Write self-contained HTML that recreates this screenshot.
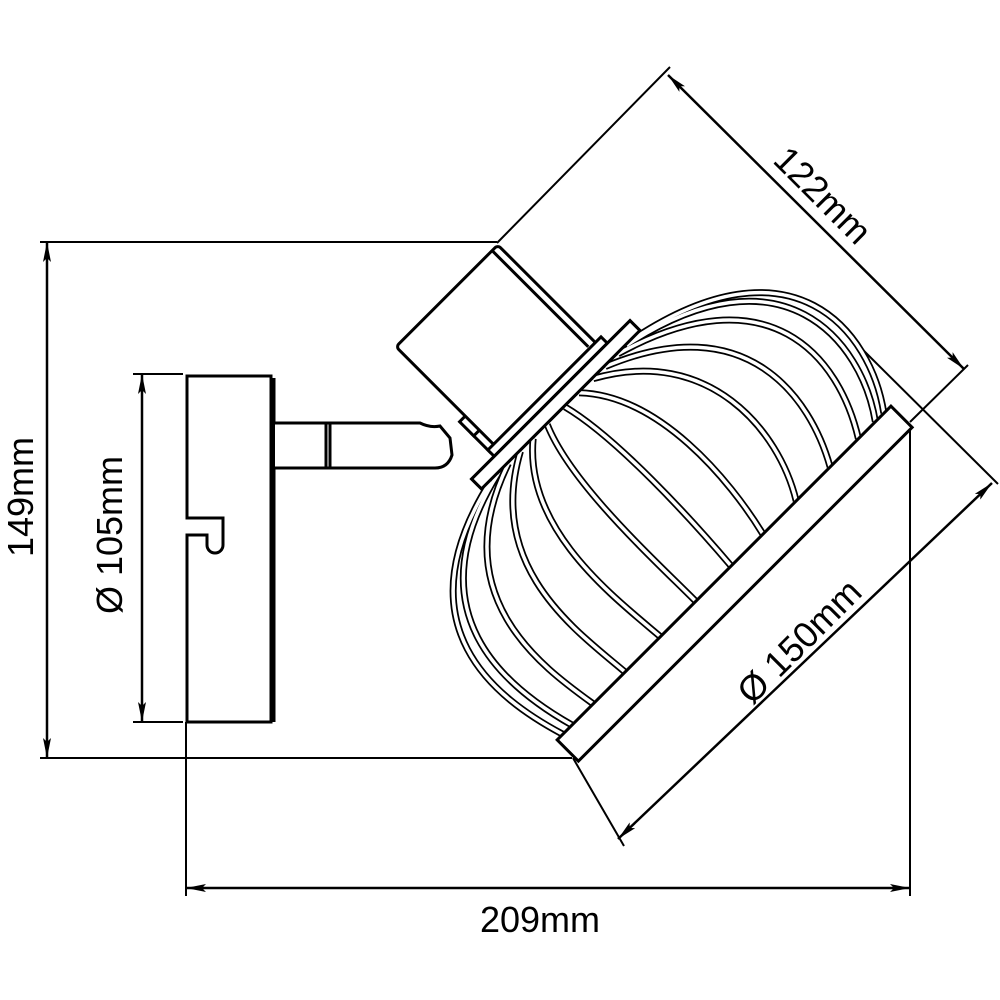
<!DOCTYPE html>
<html><head><meta charset="utf-8"><style>
html,body{margin:0;padding:0;background:#fff}
svg{display:block}
text{font-family:"Liberation Sans",Arial,sans-serif;fill:#000}
</style></head><body>
<svg width="1000" height="1000" viewBox="0 0 1000 1000" xmlns="http://www.w3.org/2000/svg">
<defs>
<marker id="ar" viewBox="0 0 20 8" refX="20" refY="4" markerWidth="20" markerHeight="8" markerUnits="userSpaceOnUse" orient="auto-start-reverse">
<path d="M0,0 L20,4 L0,8 L4,4 Z" fill="#000"/>
</marker>
</defs>
<g fill="none" stroke="#000" stroke-width="2">
<line x1="40" y1="242" x2="497" y2="242"/>
<line x1="40" y1="758" x2="572" y2="758"/>
<line x1="47" y1="242" x2="47" y2="758" marker-start="url(#ar)" marker-end="url(#ar)" stroke-width="2.5"/>
<line x1="133" y1="374" x2="183" y2="374"/>
<line x1="133" y1="722" x2="183" y2="722"/>
<line x1="142" y1="374" x2="142" y2="722" marker-start="url(#ar)" marker-end="url(#ar)" stroke-width="2.5"/>
<line x1="186" y1="722" x2="186" y2="896"/>
<line x1="910" y1="428" x2="910" y2="896"/>
<line x1="186" y1="888" x2="910" y2="888" marker-start="url(#ar)" marker-end="url(#ar)" stroke-width="2.5"/>
<line x1="497" y1="243" x2="670" y2="67"/>
<line x1="910" y1="422" x2="968" y2="365"/>
<line x1="668" y1="75" x2="964" y2="369" marker-start="url(#ar)" marker-end="url(#ar)" stroke-width="2.5"/>
<line x1="850" y1="337" x2="998" y2="484"/>
<line x1="573" y1="758" x2="624" y2="846"/>
<line x1="992" y1="483" x2="618" y2="839" marker-start="url(#ar)" marker-end="url(#ar)" stroke-width="2.5"/>

<g stroke-width="3">
<path d="M187,376 L271,376 L271,722 L187,722 L187,535 L207,535 L207,545 A8,8 0 0 0 223,545 L223,518 L187,518 Z" fill="#fff"/>
<line x1="274" y1="378" x2="274" y2="722"/>
<path d="M275,423 L420,423 Q430,428 440,426 L450,438 L452,455 Q448,468 435,468 L275,468" fill="#fff"/>
<line x1="326" y1="423" x2="326" y2="468"/>
<line x1="330" y1="423" x2="330" y2="468"/>
</g>

<g transform="translate(560,409) rotate(45)" stroke-width="3">
<rect x="-45" y="62" width="26" height="18" fill="#fff"/>
<rect x="-62" y="70" width="20" height="10" fill="#fff"/>
<rect x="-160" y="-72" width="140" height="144" rx="4" fill="#fff"/>
<line x1="-160" y1="-64" x2="-24" y2="-64"/>
<rect x="-22" y="-80" width="9" height="160" fill="#fff"/>
<rect x="-13" y="-112" width="14" height="224" fill="#fff"/>
<g stroke-linecap="butt">
<g stroke="#000" stroke-width="7">
<path d="M2,-100 C40,-290 165,-275 232,-226"/>
<path d="M2,-92 C40,-275 165,-262 232,-214"/>
<path d="M2,-80 C50,-245 160,-235 232,-190"/>
<path d="M2,-62 C60,-205 170,-185 232,-150"/>
<path d="M2,-45 C60,-150 170,-140 232,-102"/>
<path d="M2,-25 C60,-80 170,-70 232,-55"/>
<path d="M2,-5 C60,-20 170,-15 232,-10"/>
<path d="M2,20 C60,45 170,40 232,40"/>
<path d="M2,40 C60,110 170,95 232,90"/>
<path d="M2,58 C60,165 170,145 232,140"/>
<path d="M2,75 C50,215 170,195 232,185"/>
<path d="M2,90 C40,250 160,235 232,215"/>
<path d="M2,100 C40,268 160,250 232,228"/>
</g>
<g stroke="#fff" stroke-width="3.5">
<path d="M2,-100 C40,-290 165,-275 232,-226"/>
<path d="M2,-92 C40,-275 165,-262 232,-214"/>
<path d="M2,-80 C50,-245 160,-235 232,-190"/>
<path d="M2,-62 C60,-205 170,-185 232,-150"/>
<path d="M2,-45 C60,-150 170,-140 232,-102"/>
<path d="M2,-25 C60,-80 170,-70 232,-55"/>
<path d="M2,-5 C60,-20 170,-15 232,-10"/>
<path d="M2,20 C60,45 170,40 232,40"/>
<path d="M2,40 C60,110 170,95 232,90"/>
<path d="M2,58 C60,165 170,145 232,140"/>
<path d="M2,75 C50,215 170,195 232,185"/>
<path d="M2,90 C40,250 160,235 232,215"/>
<path d="M2,100 C40,268 160,250 232,228"/>
</g>
</g>
<rect x="-13" y="-112" width="14" height="224" fill="#fff"/>
<rect x="232" y="-236" width="30" height="472" fill="#fff"/>
</g>
</g>

<text x="0" y="0" font-size="36" text-anchor="middle" transform="translate(33,497) rotate(-90)">149mm</text>
<text x="0" y="0" font-size="36" text-anchor="middle" transform="translate(122,535) rotate(-90)">Ø 105mm</text>
<text x="540" y="932" font-size="36" text-anchor="middle">209mm</text>
<text x="0" y="0" font-size="36" text-anchor="middle" transform="translate(814,204) rotate(45)">122mm</text>
<text x="0" y="0" font-size="36" text-anchor="middle" transform="translate(808,650) rotate(-45)">Ø 150mm</text>
</svg>
</body></html>
